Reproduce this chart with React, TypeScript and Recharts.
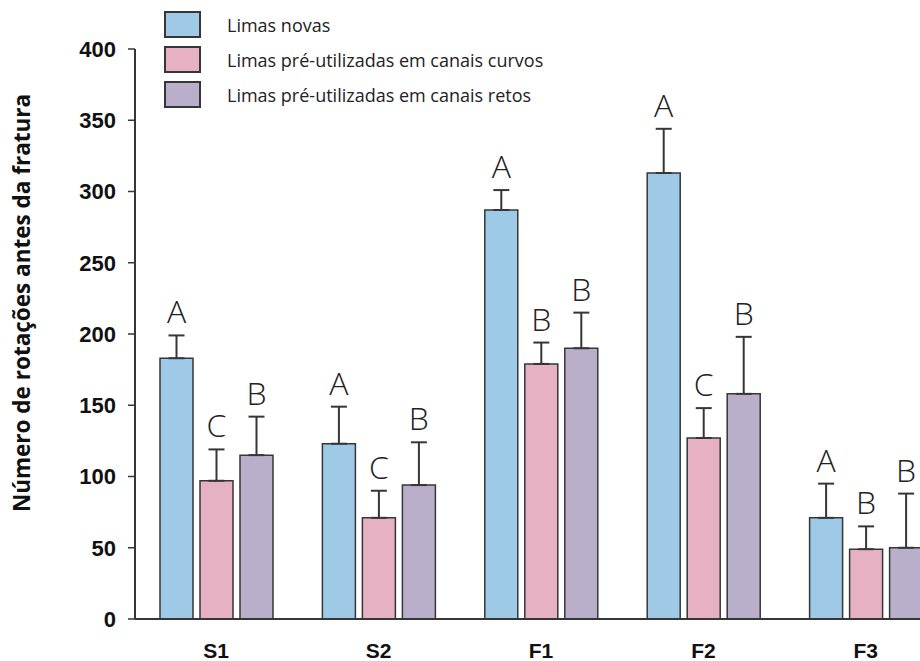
import {
  BarChart,
  Bar,
  XAxis,
  YAxis,
  ErrorBar,
  LabelList,
  Legend,
} from 'recharts'

// rotations before fracture, mean and SD per instrument
const instruments = ['S1', 'S2', 'F1', 'F2', 'F3']
const novas = [183, 123, 287, 313, 71]
const curvos = [97, 71, 179, 127, 49]
const retos = [115, 94, 190, 158, 50]
const sdNovas = [16, 26, 14, 31, 24]
const sdCurvos = [22, 19, 15, 21, 16]
const sdRetos = [27, 30, 25, 40, 38]
const letrasNovas = ['A', 'A', 'A', 'A', 'A']
const letrasCurvos = ['C', 'C', 'B', 'C', 'B']
const letrasRetos = ['B', 'B', 'B', 'B', 'B']
const yTicks = [0, 50, 100, 150, 200, 250, 300, 350, 400]

const INK = '#363636'

const chartData = instruments.map((name, i) => ({
  name,
  novas: novas[i],
  curvos: curvos[i],
  retos: retos[i],
  // only the upper whisker is drawn
  sdNovas: [0, sdNovas[i]],
  sdCurvos: [0, sdCurvos[i]],
  sdRetos: [0, sdRetos[i]],
}))

// significance letter sitting above the error whisker
function letterLabel(values: number[], sds: number[], letters: string[]) {
  return (props: any) => {
    const { x, y, width, height, index } = props
    const pxPerUnit = Number(height) / values[index]
    const top = Number(y) - sds[index] * pxPerUnit
    return (
      <text
        x={Number(x) + Number(width) / 2}
        y={top - 12}
        textAnchor="middle"
        fontFamily="'Open Sans', sans-serif"
        fontWeight={300}
        fontSize={32}
        fill="#222"
      >
        {letters[index]}
      </text>
    )
  }
}

function LegendBoxes({ payload }: any) {
  return (
    <div style={{ fontFamily: "'Open Sans', sans-serif", fontSize: 18, color: '#222' }}>
      {(payload || []).map((item: any) => (
        <div
          key={item.value}
          style={{ display: 'flex', alignItems: 'center', height: 35 }}
        >
          <div
            style={{
              width: 33,
              height: 23,
              background: item.color,
              border: `2px solid ${INK}`,
              marginRight: 26,
            }}
          />
          <span>{item.value}</span>
        </div>
      ))}
    </div>
  )
}

function AxisTitle() {
  return (
    <text
      x={30}
      y={303}
      transform="rotate(-90 30 303)"
      textAnchor="middle"
      fontFamily="'Open Sans', sans-serif"
      fontWeight={700}
      fontSize={22.5}
      fill="#111"
    >
      Número de rotações antes da fratura
    </text>
  )
}

export default function App() {
  return (
    <div
      style={{
        position: 'fixed',
        left: 0,
        top: 0,
        width: 920,
        height: 661,
        overflow: 'hidden',
        background: '#fff',
      }}
    >
      <BarChart
        width={960}
        height={661}
        data={chartData}
        margin={{ top: 49, right: 13, bottom: 0, left: 0 }}
        barSize={33}
        barGap={7}
      >
        <XAxis
          dataKey="name"
          height={42}
          tickLine={false}
          tickSize={0}
          tickMargin={24}
          axisLine={{ stroke: INK, strokeWidth: 2 }}
          tick={{ fill: '#111', fontSize: 21, fontWeight: 700, fontFamily: "'Liberation Sans', Arial, sans-serif" }}
        />
        <YAxis
          width={135}
          domain={[0, 400]}
          ticks={yTicks}
          interval={0}
          tickSize={7}
          tickMargin={12}
          axisLine={{ stroke: INK, strokeWidth: 2 }}
          tickLine={{ stroke: INK, strokeWidth: 1.5 }}
          tick={{ fill: '#111', fontSize: 22, fontWeight: 700, fontFamily: "'Liberation Sans', Arial, sans-serif" }}
          label={{ content: () => <AxisTitle /> }}
        />
        <Legend
          layout="vertical"
          align="center"
          verticalAlign="middle"
          wrapperStyle={{ top: 7, left: 164, width: 'auto' }}
          content={<LegendBoxes />}
        />
        <Bar
          dataKey="novas"
          name="Limas novas"
          fill="#9ecae8"
          stroke={INK}
          strokeWidth={1.5}
          isAnimationActive={false}
        >
          <ErrorBar dataKey="sdNovas" direction="y" width={8} stroke={INK} strokeWidth={2} />
          <LabelList dataKey="novas" content={letterLabel(novas, sdNovas, letrasNovas)} />
        </Bar>
        <Bar
          dataKey="curvos"
          name="Limas pré-utilizadas em canais curvos"
          fill="#e7b1c4"
          stroke={INK}
          strokeWidth={1.5}
          isAnimationActive={false}
        >
          <ErrorBar dataKey="sdCurvos" direction="y" width={8} stroke={INK} strokeWidth={2} />
          <LabelList dataKey="curvos" content={letterLabel(curvos, sdCurvos, letrasCurvos)} />
        </Bar>
        <Bar
          dataKey="retos"
          name="Limas pré-utilizadas em canais retos"
          fill="#b9afca"
          stroke={INK}
          strokeWidth={1.5}
          isAnimationActive={false}
        >
          <ErrorBar dataKey="sdRetos" direction="y" width={8} stroke={INK} strokeWidth={2} />
          <LabelList dataKey="retos" content={letterLabel(retos, sdRetos, letrasRetos)} />
        </Bar>
      </BarChart>
    </div>
  )
}
